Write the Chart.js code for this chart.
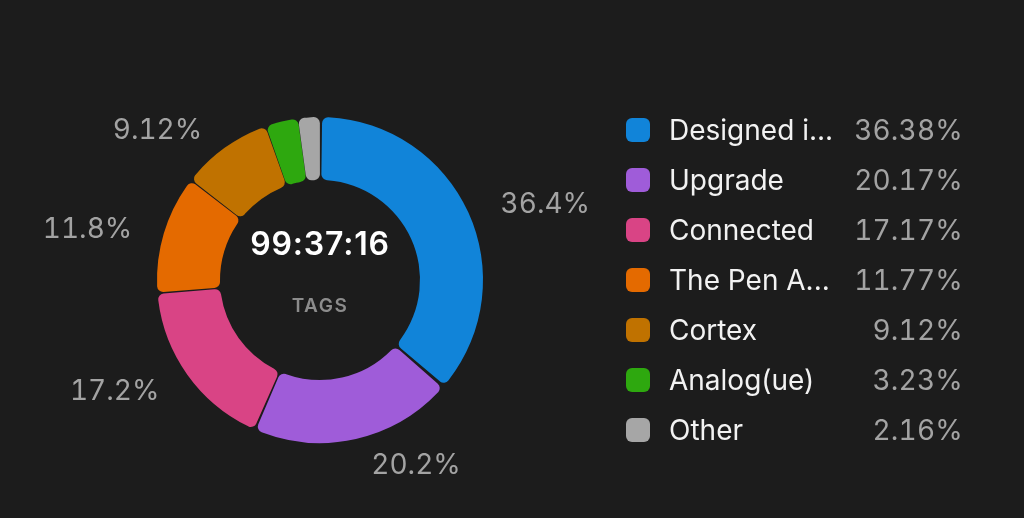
<!DOCTYPE html>
<html>
<head>
<meta charset="utf-8">
<script src="https://cdn.jsdelivr.net/npm/chart.js@4.4.0/dist/chart.umd.min.js"></script>
<style>
    html, body { margin: 0; padding: 0; background: #1c1c1c; }
    body { width: 1024px; height: 518px; position: relative; overflow: hidden; font-family: Inter, "Noto Sans", sans-serif; }
    #chart-box { position: absolute; left: 0; top: 0; width: 640px; height: 518px; }
    #legend { position: absolute; left: 626px; top: 105px; width: 337px; }
    .legend-row { display: flex; align-items: center; height: 50px; }
    .legend-box { width: 24px; height: 24px; border-radius: 6px; flex: none; }
    .legend-label { margin-left: 19px; color: #f2f2f2; font-size: 28px; flex: 1; white-space: nowrap; }
    .legend-value { color: #a3a3a3; font-size: 28px; text-align: right; font-variant-numeric: tabular-nums; letter-spacing: 0.2px; }
    .slice-label { position: absolute; color: #a3a3a3; font-size: 28px; line-height: 1; white-space: nowrap;
                   font-variant-numeric: tabular-nums; letter-spacing: 0; }
</style>
</head>
<body>
<div id="chart-box"><canvas id="tagChart"></canvas></div>
<div id="legend"></div>
<script>
const tagLabels = ['Designed i...', 'Upgrade', 'Connected', 'The Pen A...', 'Cortex', 'Analog(ue)', 'Other'];
const tagShares = [36.38, 20.17, 17.17, 11.77, 9.12, 3.23, 2.16];
const tagColors = ['#1184d9', '#9f5cd9', '#d94485', '#e46a00', '#c07200', '#2ea80f', '#a6a6a6'];
const totalTime = '99:37:16';
const centerCaption = 'TAGS';

// legend on the right, built from the same arrays
const legendEl = document.getElementById('legend');
tagLabels.forEach((label, i) => {
    legendEl.innerHTML += `
        <div class="legend-row">
            <div class="legend-box" style="background:${tagColors[i]}"></div>
            <div class="legend-label">${label}</div>
            <div class="legend-value">${tagShares[i].toFixed(2)}%</div>
        </div>`;
});

const centerText = {
    id: 'centerText',
    afterDraw(chart) {
        const arc = chart.getDatasetMeta(0).data[0];
        if (!arc) return;
        const ctx = chart.ctx;
        ctx.save();
        ctx.textAlign = 'center';
        ctx.textBaseline = 'middle';
        ctx.fillStyle = '#ffffff';
        ctx.font = '600 32px Inter';
        ctx.letterSpacing = '0.8px';
        ctx.fillText(totalTime, arc.x, arc.y - 35);
        ctx.fillStyle = '#8c8c8c';
        ctx.font = '600 19px Inter';
        ctx.letterSpacing = '1.5px';
        ctx.fillText(centerCaption, arc.x, arc.y + 26);
        ctx.restore();
    }
};

// percentage labels outside the ring (html so tabular digits work)
const outerLabels = {
    id: 'outerLabels',
    afterDraw(chart) {
        const box = document.getElementById('chart-box');
        box.querySelectorAll('.slice-label').forEach(el => el.remove());
        chart.getDatasetMeta(0).data.forEach((arc, i) => {
            const v = tagShares[i];
            if (v < 5) return;
            const mid = (arc.startAngle + arc.endAngle) / 2;
            const r = arc.outerRadius + 26;
            const cos = Math.cos(mid);
            const x = arc.x + cos * r + (cos >= 0 ? 10 : -8);
            const y = arc.y + Math.sin(mid) * r + 1;
            const el = document.createElement('div');
            el.className = 'slice-label';
            el.textContent = v.toPrecision(3) + '%';
            el.style.left = x + 'px';
            el.style.top = y + 'px';
            el.style.transform = cos >= 0 ? 'translate(0, -50%)' : 'translate(-100%, -50%)';
            box.appendChild(el);
        });
    }
};

new Chart(document.getElementById('tagChart'), {
    type: 'doughnut',
    data: {
        labels: tagLabels,
        datasets: [{
            data: tagShares,
            backgroundColor: tagColors,
            borderWidth: 0,
            spacing: 3,
            borderRadius: 6
        }]
    },
    options: {
        responsive: true,
        maintainAspectRatio: false,
        animation: false,
        cutout: '61%',
        layout: { padding: { left: 157, right: 157, top: 117, bottom: 75 } },
        plugins: {
            legend: { display: false },
            tooltip: { enabled: false }
        }
    },
    plugins: [centerText, outerLabels]
});
</script>
</body>
</html>
